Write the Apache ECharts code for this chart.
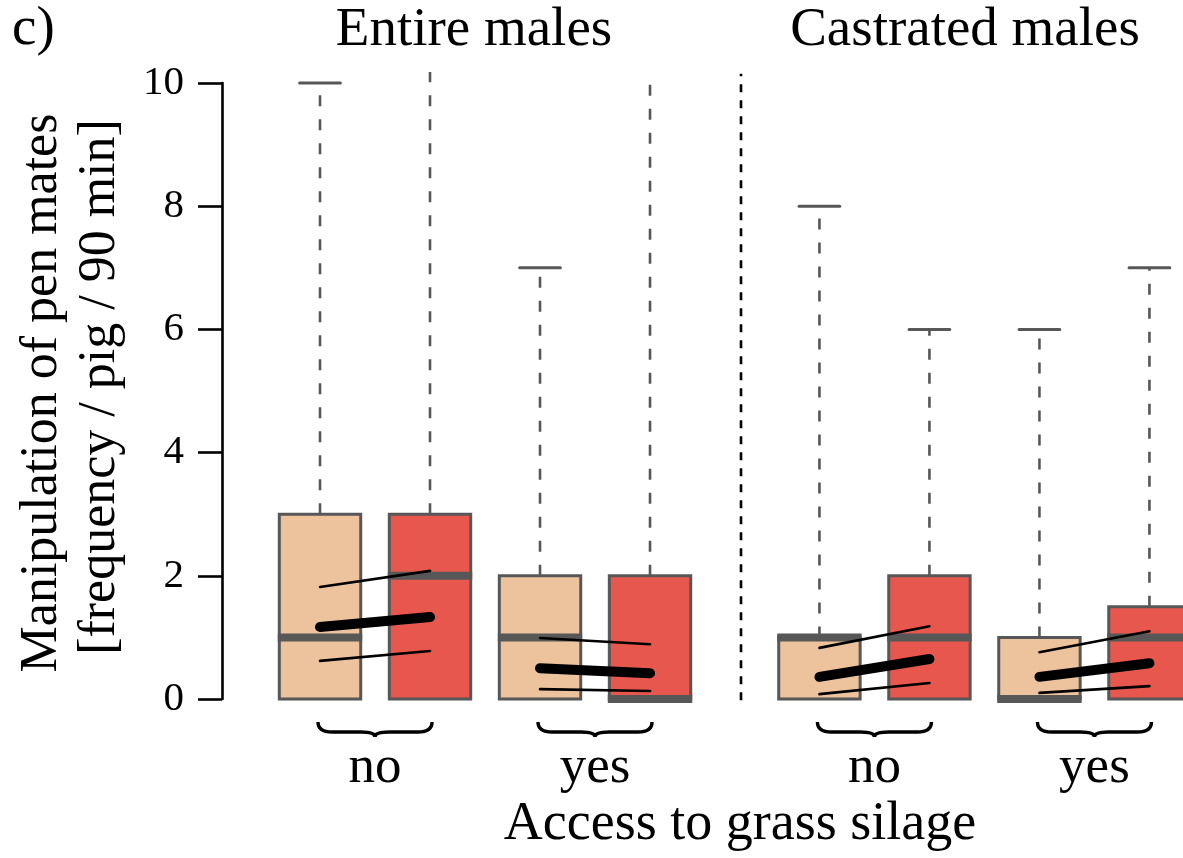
<!DOCTYPE html>
<html><head><meta charset="utf-8">
<script src="https://cdn.jsdelivr.net/npm/echarts@6/dist/echarts.min.js"></script>
<style>html,body{margin:0;padding:0;background:#fff}#c{width:1183px;height:858px}</style>
</head><body><div id="c"></div>
<script>
// ---------------- data ----------------
const panelTitles = ['Entire males', 'Castrated males'];
const groupLabels = ['no', 'yes', 'no', 'yes'];
const yTicks = [0, 2, 4, 6, 8, 10];
// box statistics [min, Q1, median, Q3, max], one per group (no/yes, entire then castrated)
const beigeBoxes = [[0, 0, 1, 3, 10], [0, 0, 1, 2, 7], [0, 0, 1, 1, 8], [0, 0, 0, 1, 6]];
const redBoxes   = [[0, 0, 2, 3, 11], [0, 0, 0, 2, 11], [0, 0, 1, 2, 6], [0, 0, 1, 1.5, 7]];
// model estimates [beige, red] per group
const estLower = [[0.62, 0.78], [0.16, 0.13], [0.08, 0.26], [0.10, 0.21]];
const estMean  = [[1.17, 1.33], [0.50, 0.42], [0.36, 0.65], [0.36, 0.58]];
const estUpper = [[1.82, 2.08], [0.99, 0.89], [0.83, 1.18], [0.76, 1.10]];

// ---------------- layout / style ----------------
const FONT = '"Liberation Serif", "DejaVu Serif", serif';
const BEIGE = '#EDC39E', RED = '#E8574D', GRAY = '#575757';
const PANEL_SHIFT = 4.54, BOX_W = 0.74, SEP_X = 4.827;

function boxX(g, red) {
  const p = Math.floor(g / 2), j = g % 2;
  return 1 + 2 * j + p * PANEL_SHIFT + (red ? 1 : 0);
}

const boxData = [];
beigeBoxes.forEach((b, g) => boxData.push([boxX(g, 0), ...b, 0]));
redBoxes.forEach((b, g) => boxData.push([boxX(g, 1), ...b, 1]));

const estData = groupLabels.map((_, g) => [boxX(g, 0), boxX(g, 1),
  estLower[g][0], estLower[g][1], estMean[g][0], estMean[g][1], estUpper[g][0], estUpper[g][1]]);

const groupData = groupLabels.map((l, g) => [boxX(g, 0), boxX(g, 1), g]);

function renderBox(params, api) {
  const x = api.value(0);
  const cs = params.coordSys;
  const hw = api.size([BOX_W, 0])[0] / 2;
  const cx = api.coord([x, 0])[0];
  const yv = i => api.coord([x, api.value(i)])[1];
  const yMin = yv(1), yQ1 = yv(2), yMed = yv(3), yQ3 = yv(4);
  let yMax = yv(5);
  const clipped = yMax < cs.y;
  if (clipped) yMax = cs.y;
  const fill = api.value(6) === 1 ? RED : BEIGE;
  const ch = [];
  ch.push({type: 'line', shape: {x1: cx, y1: yQ3, x2: cx, y2: yMax},
    style: {stroke: GRAY, lineWidth: 2.6, lineDash: [11, 13]}});
  if (!clipped) ch.push({type: 'line', shape: {x1: cx - hw / 2, y1: yMax, x2: cx + hw / 2, y2: yMax},
    style: {stroke: GRAY, lineWidth: 3, lineCap: 'round'}});
  if (yMin > yQ1 + 0.5) {
    ch.push({type: 'line', shape: {x1: cx, y1: yQ1, x2: cx, y2: yMin},
      style: {stroke: GRAY, lineWidth: 2.6, lineDash: [11, 13]}});
    ch.push({type: 'line', shape: {x1: cx - hw / 2, y1: yMin, x2: cx + hw / 2, y2: yMin},
      style: {stroke: GRAY, lineWidth: 3}});
  }
  ch.push({type: 'rect', shape: {x: cx - hw, y: yQ3, width: 2 * hw, height: yQ1 - yQ3},
    style: {fill: fill, stroke: GRAY, lineWidth: 3}});
  ch.push({type: 'line', shape: {x1: cx - hw - 1.5, y1: yMed, x2: cx + hw + 1.5, y2: yMed},
    style: {stroke: GRAY, lineWidth: 8}});
  return {type: 'group', children: ch};
}

function renderEst(params, api) {
  const x0 = api.value(0), x1 = api.value(1);
  const seg = (i, w) => {
    const a = api.coord([x0, api.value(i)]), b = api.coord([x1, api.value(i + 1)]);
    return {type: 'line', shape: {x1: a[0], y1: a[1], x2: b[0], y2: b[1]},
      style: {stroke: '#000', lineWidth: w, lineCap: 'round'}};
  };
  return {type: 'group', children: [seg(2, 2.6), seg(6, 2.6), seg(4, 10)]};
}

function renderGroup(params, api) {
  const xa = api.coord([api.value(0), 0]), xb = api.coord([api.value(1), 0]);
  const x0 = xa[0] - 2, x1 = xb[0] + 2, xm = (x0 + x1) / 2;
  const y0 = xa[1] + 23, d = 10, t = 5, r = 14;
  const path = `M${x0},${y0} Q${x0},${y0 + d} ${x0 + r},${y0 + d} L${xm - r},${y0 + d} ` +
    `Q${xm},${y0 + d} ${xm},${y0 + d + t} Q${xm},${y0 + d} ${xm + r},${y0 + d} ` +
    `L${x1 - r},${y0 + d} Q${x1},${y0 + d} ${x1},${y0}`;
  return {type: 'group', children: [
    {type: 'path', shape: {pathData: path}, style: {fill: null, stroke: '#000', lineWidth: 3.4}},
    {type: 'text', x: xm, y: xa[1] + 69,
      style: {text: groupLabels[api.value(2)], font: '53px ' + FONT, fill: '#000',
        align: 'center', verticalAlign: 'middle'}}
  ]};
}

function txt(text, x, y, size, extra) {
  return Object.assign({type: 'text', x: x, y: y,
    style: {text: text, font: size + 'px ' + FONT, fill: '#000', align: 'center', verticalAlign: 'middle'}}, extra || {});
}

const chart = echarts.init(document.getElementById('c'), null, {renderer: 'canvas'});
chart.setOption({
  animation: false,
  backgroundColor: '#fff',
  grid: [
    {left: 222, top: 83, height: 616, width: 20},
    {left: 210, right: 0, top: 72, height: 645.5}
  ],
  xAxis: [
    {gridIndex: 0, type: 'value', show: false, min: 0, max: 1},
    {gridIndex: 1, type: 'value', show: false, min: 0, max: 8.845}
  ],
  yAxis: [
    {gridIndex: 0, type: 'value', min: yTicks[0], max: yTicks[yTicks.length - 1], interval: 2,
      splitLine: {show: false},
      axisLine: {show: true, lineStyle: {color: '#000', width: 2.6}},
      axisTick: {show: true, length: 24, lineStyle: {color: '#000', width: 2.6}},
      axisLabel: {fontFamily: FONT, fontSize: 41, color: '#000', margin: 38}},
    {gridIndex: 1, type: 'value', show: false, min: -0.3, max: 10.18}
  ],
  graphic: [
    {type: 'text', x: 12, y: 30, style: {text: 'c)', font: '55px ' + FONT, fill: '#000',
      align: 'left', verticalAlign: 'middle'}},
    txt(panelTitles[0], 474, 31, 55),
    txt(panelTitles[1], 965, 31, 55),
    txt('Access to grass silage', 740, 825, 54),
    txt('Manipulation of pen mates', 42, 393, 52, {rotation: Math.PI / 2}),
    txt('[frequency / pig / 90 min]', 100, 387, 52, {rotation: Math.PI / 2})
  ],
  series: [
    {type: 'line', xAxisIndex: 1, yAxisIndex: 1, data: [[SEP_X, -0.02], [SEP_X, 10.15]],
      symbol: 'none', lineStyle: {color: '#000', width: 2.6, type: [8, 8]}, silent: true},
    {type: 'custom', xAxisIndex: 1, yAxisIndex: 1, renderItem: renderBox, data: boxData, silent: true},
    {type: 'custom', xAxisIndex: 1, yAxisIndex: 1, renderItem: renderEst, data: estData, silent: true, z: 5},
    {type: 'custom', xAxisIndex: 1, yAxisIndex: 1, renderItem: renderGroup, data: groupData, silent: true}
  ]
});
</script></body></html>
